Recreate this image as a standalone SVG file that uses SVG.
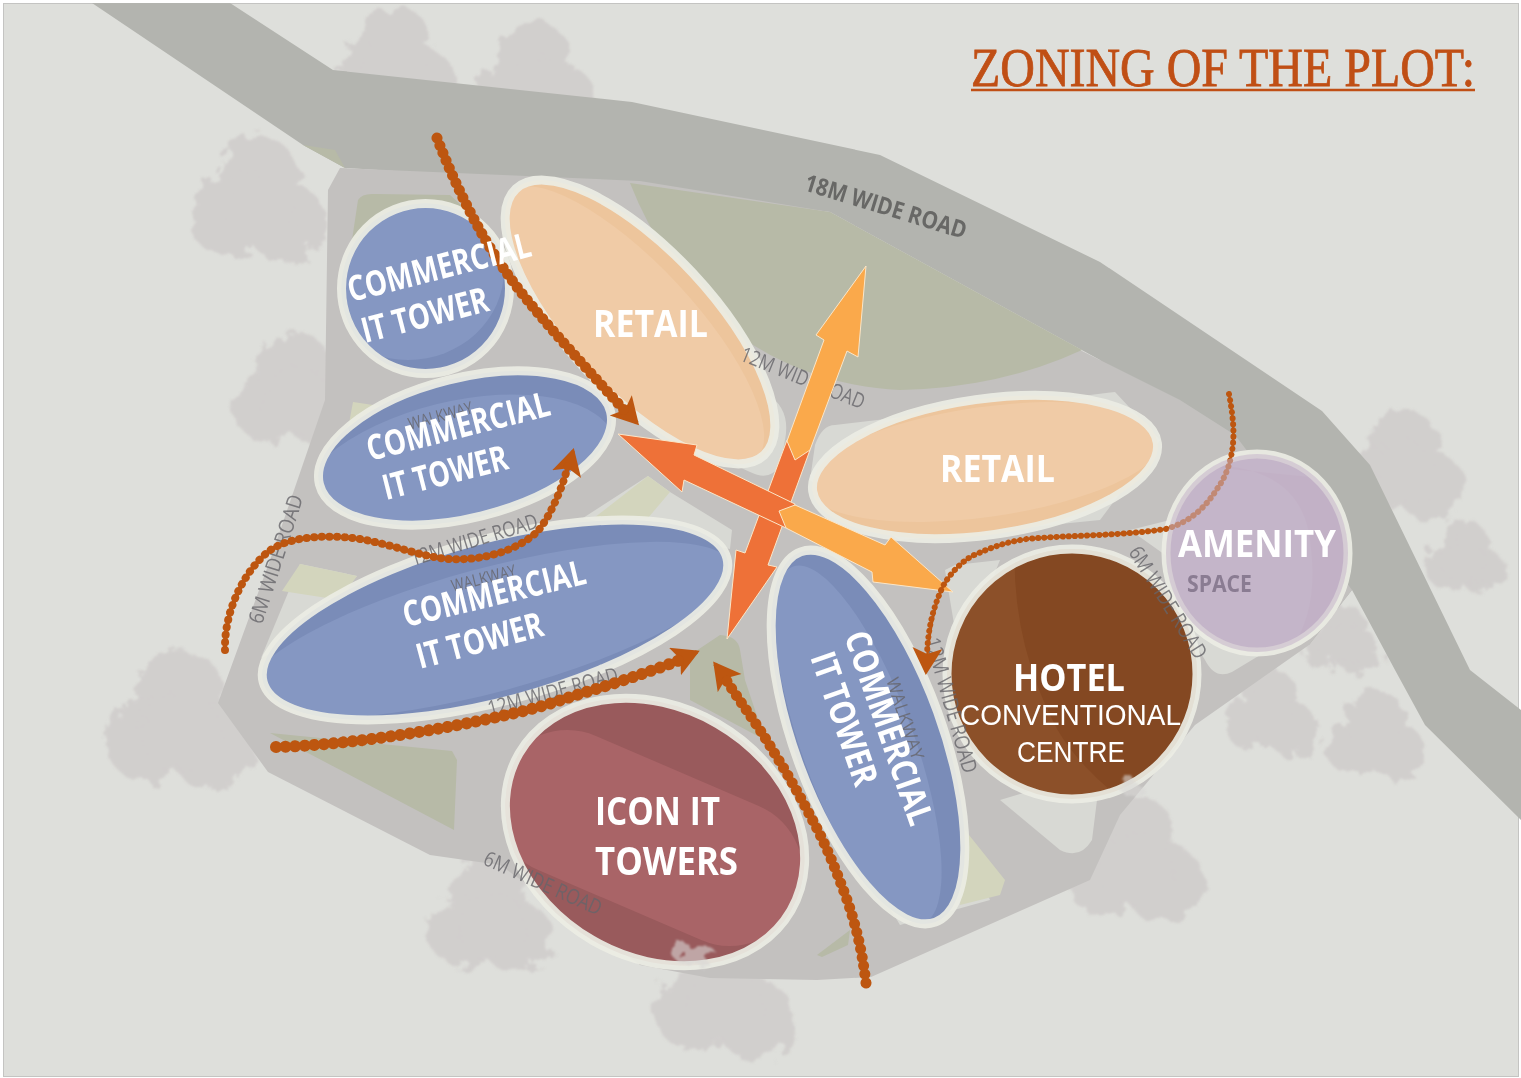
<svg xmlns="http://www.w3.org/2000/svg" width="1521" height="1078" viewBox="0 0 1521 1078">
<style>
.plot{fill:#d8d9d4}.green{fill:#b7baa7}.pgreen{fill:#d3d5bd}
.ring{fill:none;stroke:#ecede4;stroke-width:9;stroke-opacity:.92}
.lbl{font-family:"Open Sans","Liberation Sans",sans-serif;font-weight:700;fill:#fff}
.rd{font-family:"Open Sans","Liberation Sans",sans-serif;font-size:21px;fill:#66656a;opacity:.8}
.rope{fill:none;stroke:#bd5610;stroke-width:4}
.dots{fill:none;stroke:#bd5610;stroke-width:11;stroke-linecap:round;stroke-dasharray:.1 8.5}
.big{stroke:#fbe6c8;stroke-width:1}
.tree{fill:#d1cfcd}
.blue{fill:#7a8cb8}.bluel{fill:#8597c2}
</style>
<defs>
<filter id="rough" x="-10%" y="-10%" width="120%" height="120%"><feTurbulence type="fractalNoise" baseFrequency=".06" numOctaves="4" seed="7"/><feDisplacementMap in="SourceGraphic" scale="24"/><feGaussianBlur stdDeviation=".8"/></filter>
<g id="tree"><circle class="tree" cx="0" cy="-28" r="38"/><circle class="tree" cx="-30" cy="12" r="36"/><circle class="tree" cx="28" cy="18" r="38"/><circle class="tree" cx="0" cy="5" r="35"/></g>
<marker id="head" markerUnits="userSpaceOnUse" markerWidth="34" markerHeight="34" refX="24" refY="15" orient="auto"><path d="M0 0L27 15L0 30L6 15Z" fill="#bd5610"/></marker>
<clipPath id="cA"><ellipse cx="425.5" cy="288.5" rx="84" ry="85"/></clipPath>
<clipPath id="cB"><ellipse cx="465" cy="448" rx="150" ry="70" transform="rotate(-14 465 448)"/></clipPath>
<clipPath id="cC"><ellipse cx="495" cy="620" rx="240" ry="81" transform="rotate(-15 495 620)"/></clipPath>
<clipPath id="cD"><ellipse cx="868" cy="737" rx="197" ry="74" transform="rotate(70 868 737)"/></clipPath>
<clipPath id="cE"><ellipse cx="655" cy="832" rx="157" ry="125" transform="rotate(30 655 832)"/></clipPath>
<clipPath id="cF"><ellipse cx="640" cy="322" rx="182" ry="72" transform="rotate(47 640 322)"/></clipPath>
<clipPath id="cG"><ellipse cx="985" cy="467" rx="174" ry="68" transform="rotate(-8 985 467)"/></clipPath>
<clipPath id="cH"><circle cx="1072" cy="674" r="125"/></clipPath>
<clipPath id="cI"><ellipse cx="1257" cy="553" rx="91" ry="99"/></clipPath>
</defs>
<rect width="1521" height="1078" fill="#fff"/>
<rect x="3.5" y="3.5" width="1515" height="1073" fill="#dedfdb" stroke="#c4c4c2"/>

<g id="trees" filter="url(#rough)">
<use href="#tree" transform="translate(258 205) scale(1.05)"/><use href="#tree" transform="translate(295 395) scale(.95)"/><use href="#tree" transform="translate(395 65) scale(.9)"/><use href="#tree" transform="translate(535 85) scale(.95)"/>
<use href="#tree" transform="translate(180 725) scale(1.15)"/><use href="#tree" transform="translate(490 920) scale(.95)"/><use href="#tree" transform="translate(725 1000) scale(1.05)"/><use href="#tree" transform="translate(1135 865) scale(1.05)"/>
<use href="#tree" transform="translate(1405 470) scale(.9)"/><use href="#tree" transform="translate(1465 560) scale(.6)"/><use href="#tree" transform="translate(1340 640) scale(.6)"/><use href="#tree" transform="translate(1270 715) scale(.7)"/><use href="#tree" transform="translate(1375 738) scale(.75)"/>
</g>

<g id="ground">
<polygon points="92,3 230,3 333,70 632,102 880,155 1100,262 1322,411 1370,465 1470,670 1521,710 1521,820 1425,725 1395,670 1352,590 1309,645 1100,360 830,212 620,185 345,168 303,145" fill="#b3b4af"/>
<polygon points="328,190 340,168 640,181 830,212 1080,350 1180,400 1235,435 1300,520 1352,590 1309,645 1195,725 1120,815 1090,880 871,977 817,980 710,978 640,965 500,865 430,855 268,772 218,703 270,560 325,400" fill="#c3c1bf"/>
<polygon class="green" points="303,145 345,168 335,150"/>
<path class="green" d="M630 183L830 212L1082 350Q1000 388 900 390Q800 385 725 325Q660 260 630 183Z"/>
<polygon class="green" points="270,733 452,751 457,760 454,830"/>
<path class="green" d="M690 655L720 635Q738 636 740 650L745 680L765 740L690 700Z"/>
<polygon class="green" points="817,955 850,930 848,945 822,957"/>
<path class="green" d="M352 240L358 200Q362 193 375 194L450 195L500 240L430 300Z"/>
<path class="plot" d="M700 320L775 400Q790 415 785 440L780 465Q770 482 750 472L680 440Z"/>
<path class="plot" d="M835 425Q822 425 815 445L810 480L900 540L1100 520L1160 440L1115 392L1090 395Z"/>
<polygon class="plot" points="648,476 670,492 732,530 730,549 583,518"/>
<polygon class="pgreen" points="648,476 670,492 648,518 594,518"/>
<polygon class="plot" points="300,564 357,576 300,640 261,658"/>
<polygon class="pgreen" points="300,564 357,576 340,600 282,591"/>
<polygon class="pgreen" points="353,402 420,412 345,445"/>
<polygon class="plot" points="885,900 960,830 990,900 900,925"/>
<polygon class="pgreen" points="965,830 1005,880 1000,895 960,905"/>
<path class="plot" d="M1000 800L1060 850Q1080 860 1092 840L1097 800L1050 785Z"/>
<polygon class="plot" points="945,570 955,565 1000,560 960,660"/>
<path class="plot" d="M1130 530L1170 520L1180 620L1205 660Q1215 680 1232 672L1285 640Z"/>
</g>

<g id="zone-commercial-a">
<ellipse cx="425.5" cy="288.5" rx="84" ry="85" class="blue"/>
<g clip-path="url(#cA)"><ellipse cx="408" cy="270" rx="96" ry="90" class="bluel"/></g>
<ellipse cx="425.5" cy="288.5" rx="84" ry="85" class="ring"/>
</g>
<g id="zone-retail-a">
<ellipse cx="640" cy="322" rx="182" ry="72" transform="rotate(47 640 322)" fill="#edc59c"/>
<g clip-path="url(#cF)"><ellipse cx="632" cy="326" rx="182" ry="62" transform="rotate(47 632 326)" fill="#f0cba6"/></g>
<ellipse cx="640" cy="322" rx="182" ry="72" transform="rotate(47 640 322)" class="ring"/>
</g>
<g id="zone-commercial-b">
<ellipse cx="465" cy="448" rx="150" ry="70" transform="rotate(-14 465 448)" class="blue"/>
<g clip-path="url(#cB)"><ellipse cx="455" cy="480" rx="165" ry="78" transform="rotate(-14 455 480)" class="bluel"/></g>
<ellipse cx="465" cy="448" rx="150" ry="70" transform="rotate(-14 465 448)" class="ring"/>
</g>
<g id="zone-commercial-c">
<ellipse cx="495" cy="620" rx="240" ry="81" transform="rotate(-15 495 620)" class="blue"/>
<g clip-path="url(#cC)"><ellipse cx="490" cy="630" rx="250" ry="62" transform="rotate(-15 490 630)" class="bluel"/></g>
<ellipse cx="495" cy="620" rx="240" ry="81" transform="rotate(-15 495 620)" class="ring"/>
</g>
<g id="zone-retail-b">
<ellipse cx="985" cy="467" rx="174" ry="68" transform="rotate(-8 985 467)" fill="#edc59c"/>
<g clip-path="url(#cG)"><ellipse cx="985" cy="462" rx="180" ry="55" transform="rotate(-8 985 462)" fill="#f0cba6"/></g>
<ellipse cx="985" cy="467" rx="174" ry="68" transform="rotate(-8 985 467)" class="ring"/>
</g>
<g id="zone-commercial-d">
<ellipse cx="868" cy="737" rx="197" ry="74" transform="rotate(70 868 737)" class="blue"/>
<g clip-path="url(#cD)"><ellipse cx="858" cy="745" rx="190" ry="56" transform="rotate(70 858 745)" class="bluel"/></g>
<ellipse cx="868" cy="737" rx="197" ry="74" transform="rotate(70 868 737)" class="ring"/>
</g>
<g id="zone-icon">
<ellipse cx="655" cy="832" rx="157" ry="125" transform="rotate(30 655 832)" fill="#995a5c"/>
<g clip-path="url(#cE)"><line x1="567" y1="803" x2="730" y2="873" stroke="#a96467" stroke-width="146" stroke-linecap="round"/></g>
<ellipse cx="655" cy="832" rx="157" ry="125" transform="rotate(30 655 832)" class="ring"/>
</g>
<g id="zone-hotel">
<circle cx="1072" cy="674" r="125" fill="#8c5029"/>
<g clip-path="url(#cH)"><path d="M1015 540Q1010 640 1057 729Q1075 760 1110 790L1210 790L1210 540Z" fill="#844822"/></g>
<circle cx="1072" cy="674" r="125" class="ring"/>
</g>
<g id="zone-amenity">
<ellipse cx="1257" cy="553" rx="91" ry="99" fill="#c4b5c9"/>
<g clip-path="url(#cI)"><path d="M1190 465Q1300 460 1310 540Q1320 610 1290 650L1350 600L1340 480Z" fill="#bfaec4"/></g>
<ellipse cx="1257" cy="553" rx="91" ry="99" class="ring"/>
</g>
<g id="tree-tops" filter="url(#rough)" opacity=".6">
<ellipse cx="695" cy="955" rx="22" ry="10" fill="#d9d8d6"/><ellipse cx="1130" cy="787" rx="11" ry="7" fill="#d9d8d6"/>
</g>

<g id="road-labels">
<text class="rd" transform="translate(803 190) rotate(17)" textLength="168" lengthAdjust="spacingAndGlyphs" style="font-size:24px;font-weight:700;opacity:1;fill:#686866">18M WIDE ROAD</text>
<text class="rd" transform="translate(739 360) rotate(22)" textLength="132" lengthAdjust="spacingAndGlyphs">12M WIDE ROAD</text>
<text class="rd" transform="translate(262 625) rotate(-72)" textLength="134" lengthAdjust="spacingAndGlyphs">6M WIDE ROAD</text>
<text class="rd" transform="translate(413 566) rotate(-17)" textLength="132" lengthAdjust="spacingAndGlyphs">12M WIDE ROAD</text>
<text class="rd" transform="translate(490 716) rotate(-15)" textLength="134" lengthAdjust="spacingAndGlyphs">12M WIDE ROAD</text>
<text class="rd" transform="translate(482 864) rotate(24)" textLength="127" lengthAdjust="spacingAndGlyphs">6M WIDE ROAD</text>
<text class="rd" transform="translate(925 640) rotate(74)" textLength="140" lengthAdjust="spacingAndGlyphs">12M WIDE ROAD</text>
<text class="rd" transform="translate(1128 552) rotate(58)" textLength="128" lengthAdjust="spacingAndGlyphs">6M WIDE ROAD</text>
<text class="rd" transform="translate(410 430) rotate(-15)" textLength="66" lengthAdjust="spacingAndGlyphs" style="font-size:17px">WALKWAY</text>
<text class="rd" transform="translate(453 592) rotate(-14)" textLength="66" lengthAdjust="spacingAndGlyphs" style="font-size:17px">WALKWAY</text>
<text class="rd" transform="translate(886 680) rotate(72)" textLength="85" lengthAdjust="spacingAndGlyphs" style="font-size:18px">WALKWAY</text>
</g>

<g id="connectors">
<polygon class="big" points="810,450 768,565 777,567 727,639 736,550 745,553 787,440" fill="#ee7138"/>
<polygon class="big" points="618,434 697,445 694,455 795,504 786,528 684,480 682,492" fill="#ee7138"/>
<polygon class="big" points="795,505 885,545 891,537 953,592 873,582 872,572 786,528 779,511" fill="#faa94b"/>
<polygon class="big" points="866,266 858,357 847,351 810,450 795,460 787,441 824,340 816,335" fill="#faa94b"/>
<path class="rope" marker-end="url(#head)" d="M437 138C455 185 480 235 506 272S570 350 637 423"/>
<path class="rope" marker-end="url(#head)" d="M225 650C224 610 245 570 269 551C290 536 325 535 353 538C390 543 420 557 449 559C480 561 515 552 537 532C552 515 565 480 573 451"/>
<path class="rope" marker-end="url(#head)" d="M276 747C350 745 440 730 506 715C540 708 560 700 583 693C620 682 660 668 697 652"/>
<path class="rope" marker-end="url(#head)" d="M866 983C862 950 856 925 846 897C836 870 826 845 813 821C802 800 790 778 775 754C758 725 735 690 715 664"/>
<path class="rope" marker-end="url(#head)" style="stroke-width:2.5" d="M1229 394C1233 415 1235 435 1232 451C1230 465 1225 478 1217 489C1205 508 1190 522 1166 529C1120 536 1070 535 1027 539C1005 542 990 548 972 556C960 563 950 574 943 586C932 610 928 640 926 672"/>
<path class="dots" style="stroke-dasharray:.1 8" d="M437 138C455 185 480 235 506 272S570 350 625 411"/>
<path class="dots" style="stroke-width:8;stroke-dasharray:.1 7.5" d="M225 650C224 610 245 570 269 551C290 536 325 535 353 538C390 543 420 557 449 559C480 561 515 552 537 532C552 515 565 480 568 465"/>
<path class="dots" style="stroke-width:12;stroke-dasharray:.1 9.5" d="M276 747C350 745 440 730 506 715C540 708 560 700 583 693C620 682 660 668 685 658"/>
<path class="dots" d="M866 983C862 950 856 925 846 897C836 870 826 845 813 821C802 800 790 778 775 754C758 725 735 695 725 678"/>
<path class="dots" style="stroke-width:6;stroke-dasharray:.1 6" d="M1229 394C1233 415 1235 435 1232 451C1230 465 1225 478 1217 489C1205 508 1190 522 1166 529C1120 536 1070 535 1027 539C1005 542 990 548 972 556C960 563 950 574 943 586C932 610 928 630 927 655"/>
</g>
<ellipse id="amenity-veil" cx="1257" cy="553" rx="91" ry="99" fill="#c4b5c9" opacity=".55"/>

<g id="texts">
<text class="lbl" transform="translate(351 302) rotate(-14.2)" font-size="35" textLength="188" lengthAdjust="spacingAndGlyphs">COMMERCIAL</text>
<text class="lbl" transform="translate(365 343) rotate(-14.5)" font-size="35" textLength="130" lengthAdjust="spacingAndGlyphs">IT TOWER</text>
<text class="lbl" transform="translate(370 461) rotate(-14.2)" font-size="35" textLength="188" lengthAdjust="spacingAndGlyphs">COMMERCIAL</text>
<text class="lbl" transform="translate(386 500) rotate(-14.2)" font-size="35" textLength="128" lengthAdjust="spacingAndGlyphs">IT TOWER</text>
<text class="lbl" transform="translate(406 627) rotate(-13.5)" font-size="35" textLength="187" lengthAdjust="spacingAndGlyphs">COMMERCIAL</text>
<text class="lbl" transform="translate(420 669) rotate(-15)" font-size="35" textLength="130" lengthAdjust="spacingAndGlyphs">IT TOWER</text>
<text class="lbl" transform="translate(844 636) rotate(70.8)" font-size="35" textLength="203" lengthAdjust="spacingAndGlyphs">COMMERCIAL</text>
<text class="lbl" transform="translate(810 657) rotate(70.8)" font-size="35" textLength="139" lengthAdjust="spacingAndGlyphs">IT TOWER</text>
<text class="lbl" x="593" y="337" font-size="38" textLength="115" lengthAdjust="spacingAndGlyphs">RETAIL</text>
<text class="lbl" x="940" y="482" font-size="38" textLength="115" lengthAdjust="spacingAndGlyphs">RETAIL</text>
<text class="lbl" x="595" y="825" font-size="40" textLength="125" lengthAdjust="spacingAndGlyphs">ICON IT</text>
<text class="lbl" x="595" y="875" font-size="40" textLength="143" lengthAdjust="spacingAndGlyphs">TOWERS</text>
<text class="lbl" x="1013" y="691" font-size="38" textLength="112" lengthAdjust="spacingAndGlyphs">HOTEL</text>
<text x="960" y="725" font-family="Liberation Sans,sans-serif" font-size="29.5" fill="#fff" textLength="221" lengthAdjust="spacingAndGlyphs">CONVENTIONAL</text>
<text x="1017" y="762" font-family="Liberation Sans,sans-serif" font-size="29.5" fill="#fff" textLength="108" lengthAdjust="spacingAndGlyphs">CENTRE</text>
<text class="lbl" x="1178" y="557" font-size="38" textLength="158" lengthAdjust="spacingAndGlyphs">AMENITY</text>
<text class="lbl" x="1187" y="592" font-size="24" textLength="65" lengthAdjust="spacingAndGlyphs" style="fill:#8a7c92">SPACE</text>
<text transform="translate(971 86) scale(1 1.08)" font-family="Liberation Serif,serif" font-size="50" fill="#c04f15" stroke="#c04f15" stroke-width=".7" textLength="504" lengthAdjust="spacingAndGlyphs">ZONING OF THE PLOT:</text>
<line x1="971" y1="90" x2="1475" y2="90" stroke="#c04f15" stroke-width="2.5"/>
</g>
</svg>
